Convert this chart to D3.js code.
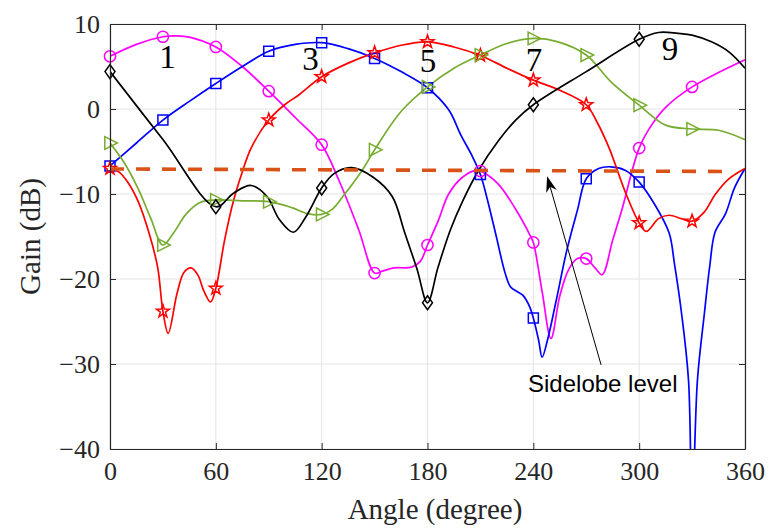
<!DOCTYPE html>
<html>
<head>
<meta charset="utf-8">
<script src="https://cdn.jsdelivr.net/npm/d3@7"></script>
<style>
  html, body { margin: 0; padding: 0; background: #ffffff; }
  svg { display: block; }
</style>
</head>
<body>
<svg id="chart" width="769" height="531"></svg>
<script>
// ---------------- DATA ----------------
const xTicks = [0, 60, 120, 180, 240, 300, 360];
const yTicks = [-40, -30, -20, -10, 0, 10];

// Series "1" (magenta, circles)
const s1Angle = [0, 15, 30, 38, 45, 60, 75, 90, 105, 120, 130, 141, 150, 154, 161, 171, 176, 180, 186, 192, 200, 208, 210, 220, 230, 238, 240, 245, 250, 255, 260, 265, 270, 275, 279, 285, 290, 300, 307, 315, 330, 345, 360];
const s1Gain  = [6.2, 7.6, 8.5, 8.6, 8.45, 7.3, 5.0, 2.1, -1.0, -4.2, -8.5, -14.2, -19.3, -19.1, -18.7, -18.6, -17.9, -16.0, -13.2, -10.0, -8.0, -7.2, -7.3, -8.8, -11.8, -14.8, -15.7, -21.5, -27.0, -22.0, -18.9, -17.6, -17.6, -18.7, -19.5, -15.4, -12.0, -4.6, -1.9, 0.2, 2.6, 4.3, 5.8];

// Series "3" (blue, squares)
const s3Angle = [0, 15, 30, 45, 60, 75, 90, 105, 120, 135, 150, 165, 180, 192, 199, 205, 210, 214, 219, 224, 227, 231, 234, 238, 240, 243, 245, 248, 253, 259, 265, 270, 277, 284, 292, 300, 309, 317, 320, 324, 328, 330, 333, 337, 340, 343, 349, 354, 360];
const s3Gain  = [-6.7, -4.0, -1.3, 0.9, 3.0, 5.0, 6.8, 7.6, 7.8, 7.1, 5.95, 4.4, 2.5, -0.1, -3.1, -5.4, -7.7, -10.7, -15.0, -19.3, -20.9, -21.5, -21.9, -23.3, -24.6, -27.2, -29.2, -27.2, -22.5, -16.6, -11.9, -8.2, -7.0, -6.8, -7.2, -8.6, -11.3, -14.6, -18.2, -24.0, -32.0, -48.0, -32.0, -24.0, -18.5, -14.5, -12.3, -9.3, -7.0];

// Series "5" (red, pentagrams)
const s5Angle = [0, 5, 10, 16, 22, 27, 30, 33, 38, 42, 46, 50, 53, 57, 60, 65, 70, 75, 80, 90, 99, 107, 120, 135, 150, 165, 180, 195, 210, 225, 240, 255, 270, 276, 283, 292, 300, 304, 311, 317, 324, 330, 337, 343, 351, 360];
const s5Gain  = [-7.0, -7.4, -8.6, -10.9, -14.5, -18.6, -23.8, -26.4, -21.7, -19.2, -18.7, -19.6, -21.3, -22.7, -21.1, -15.4, -10.8, -7.4, -4.6, -1.3, 0.5, 1.65, 3.8, 5.4, 6.6, 7.5, 7.9, 7.3, 6.3, 4.8, 3.4, 2.2, 0.5, -1.5, -4.6, -9.7, -13.4, -14.4, -12.9, -12.5, -12.9, -13.2, -12.1, -10.1, -8.2, -7.0];

// Series "7" (green, right triangles)
const s7Angle = [0, 8, 16, 23, 30, 36, 43, 51, 60, 75, 90, 103, 112, 120, 126, 132, 143, 150, 165, 180, 195, 210, 225, 240, 254, 270, 284, 300, 315, 330, 345, 360];
const s7Gain  = [-4.0, -6.3, -9.4, -12.8, -16.0, -14.6, -12.4, -11.0, -10.7, -10.8, -10.9, -11.6, -12.3, -12.4, -11.8, -10.3, -7.2, -4.8, -0.3, 2.6, 4.8, 6.35, 7.7, 8.3, 7.9, 6.35, 3.2, 0.45, -1.9, -2.35, -2.5, -3.6];

// Series "9" (black, diamonds)
const s9Angle = [0, 30, 60, 70, 80, 89, 96, 104, 111, 120, 127, 137, 149, 160, 167, 174, 180, 186, 193, 200, 209, 220, 230, 240, 270, 300, 311, 322, 330, 341, 351, 360];
const s9Gain  = [4.4, -3.6, -11.5, -9.9, -9.0, -10.3, -13.0, -14.5, -12.7, -9.3, -7.6, -6.9, -8.0, -10.3, -14.5, -18.8, -22.8, -18.6, -14.2, -10.8, -7.2, -3.8, -1.3, 0.5, 4.4, 8.2, 9.0, 8.9, 8.7, 7.9, 6.7, 4.8];

// Sidelobe level (dashed)
const sidelobeAngle = [0, 347];
const sidelobeGain  = [-7.05, -7.35];

// Series labels
const seriesNames = ["1", "3", "5", "7", "9"];
const seriesLabelAngle = [32.6, 113.7, 180.3, 240.4, 317.5];
const seriesLabelGain  = [4.8, 4.6, 4.4, 4.5, 5.8];

// Annotation
const annotationText = "Sidelobe level";
const arrowTip  = [247.8, -7.9];
const arrowTail = [278.4, -30.1];
const annotationAt = [237.0, -33.3];

// ---------------- CHART ----------------
const plot = { left: 110, right: 745, top: 24, bottom: 449 };
const svg = d3.select("#chart");

const x = d3.scaleLinear().domain([0, 360]).range([plot.left, plot.right]);
const y = d3.scaleLinear().domain([-40, 10]).range([plot.bottom, plot.top]);

const axisColor = "#262626";
const serif = "'Liberation Serif', 'Times New Roman', Times, serif";

svg.append("defs").append("clipPath").attr("id", "plotclip")
  .append("rect")
  .attr("x", plot.left).attr("y", plot.top)
  .attr("width", plot.right - plot.left).attr("height", plot.bottom - plot.top);

// grid
const grid = svg.append("g");
grid.selectAll("line.gx").data(xTicks).join("line")
  .attr("x1", d => x(d)).attr("x2", d => x(d))
  .attr("y1", plot.top).attr("y2", plot.bottom)
  .attr("stroke", "#e4e4e4").attr("stroke-width", 1);
grid.selectAll("line.gy").data(yTicks).join("line")
  .attr("y1", d => y(d)).attr("y2", d => y(d))
  .attr("x1", plot.left).attr("x2", plot.right)
  .attr("stroke", "#e4e4e4").attr("stroke-width", 1);

// series
const series = [
  { name: "1", angle: s1Angle, gain: s1Gain, color: "#FF00FF", marker: "circle", step: 30 },
  { name: "3", angle: s3Angle, gain: s3Gain, color: "#0000FF", marker: "square", step: 30 },
  { name: "5", angle: s5Angle, gain: s5Gain, color: "#FF0000", marker: "star", step: 30 },
  { name: "7", angle: s7Angle, gain: s7Gain, color: "#77AC30", marker: "triangle", step: 30 },
  { name: "9", angle: s9Angle, gain: s9Gain, color: "#000000", marker: "diamond", step: 60 }
];

const line = d3.line()
  .x(d => x(d[0])).y(d => y(d[1]))
  .curve(d3.curveCatmullRom.alpha(0.5));

function starPath(R, r) {
  const pts = [];
  for (let i = 0; i < 10; i++) {
    const rad = i % 2 === 0 ? R : r;
    const a = -Math.PI / 2 + i * Math.PI / 5;
    pts.push([rad * Math.cos(a), rad * Math.sin(a)]);
  }
  return "M" + pts.map(p => p[0].toFixed(2) + "," + p[1].toFixed(2)).join("L") + "Z";
}
const shapes = {
  circle: "M5.6,0A5.6,5.6 0 1,1 -5.6,0A5.6,5.6 0 1,1 5.6,0Z",
  square: "M-5,-5L5,-5L5,5L-5,5Z",
  star: starPath(6.8, 2.7),
  triangle: "M-5.2,-6.4L7.4,0L-5.2,6.4Z",
  diamond: "M0,-7L5,0L0,7L-5,0Z"
};

const linesG = svg.append("g").attr("clip-path", "url(#plotclip)");
const markersG = svg.append("g");

series.forEach(s => {
  const pts = s.angle.map((a, i) => [a, s.gain[i]]);
  linesG.append("path")
    .datum(pts)
    .attr("d", line)
    .attr("fill", "none")
    .attr("stroke", s.color)
    .attr("stroke-width", 1.7)
    .attr("stroke-linejoin", "round");
  const mk = pts.filter(p => p[0] % s.step === 0 && p[0] <= 330 && p[1] >= -40 && p[1] <= 10);
  markersG.selectAll(null).data(mk).join("path")
    .attr("transform", d => `translate(${x(d[0])},${y(d[1])})`)
    .attr("d", shapes[s.marker])
    .attr("fill", "none")
    .attr("stroke", s.color)
    .attr("stroke-width", 1.5);
});

// sidelobe dashed line
svg.append("line")
  .attr("x1", x(sidelobeAngle[0])).attr("y1", y(sidelobeGain[0]))
  .attr("x2", x(sidelobeAngle[1])).attr("y2", y(sidelobeGain[1]))
  .attr("stroke", "#D95319").attr("stroke-width", 3.6)
  .attr("stroke-dasharray", "14,12");

// axes (inward ticks)
const tickLen = 6;
const gx = svg.append("g").attr("transform", `translate(0,${plot.bottom})`)
  .call(d3.axisBottom(x).tickValues(xTicks).tickSizeInner(-tickLen).tickSizeOuter(0).tickPadding(13).tickFormat(d3.format("d")));
const gxTop = svg.append("g").attr("transform", `translate(0,${plot.top})`)
  .call(d3.axisTop(x).tickValues(xTicks).tickSizeInner(-tickLen).tickSizeOuter(0).tickFormat(""));
const gy = svg.append("g").attr("transform", `translate(${plot.left},0)`)
  .call(d3.axisLeft(y).tickValues(yTicks).tickSizeInner(-tickLen).tickSizeOuter(0).tickPadding(10).tickFormat(d3.format("d")));
const gyRight = svg.append("g").attr("transform", `translate(${plot.right},0)`)
  .call(d3.axisRight(y).tickValues(yTicks).tickSizeInner(-tickLen).tickSizeOuter(0).tickFormat(""));

[gx, gxTop, gy, gyRight].forEach(g => {
  g.select(".domain").attr("stroke", axisColor).attr("stroke-width", 1.2);
  g.selectAll(".tick line").attr("stroke", axisColor).attr("stroke-width", 1);
  g.selectAll("text").attr("fill", "#262626")
    .style("font-family", serif).style("font-size", "26px");
});

// axis titles
svg.append("text")
  .attr("x", 435).attr("y", 519)
  .attr("text-anchor", "middle")
  .style("font-family", serif).style("font-size", "29px").attr("fill", "#262626")
  .text("Angle (degree)");
svg.append("text")
  .attr("transform", `translate(40,${(plot.top + plot.bottom) / 2}) rotate(-90)`)
  .attr("text-anchor", "middle")
  .style("font-family", serif).style("font-size", "29px").attr("fill", "#262626")
  .text("Gain (dB)");

// series number labels
svg.append("g").selectAll("text").data(seriesNames).join("text")
  .attr("x", (d, i) => x(seriesLabelAngle[i]))
  .attr("y", (d, i) => y(seriesLabelGain[i]))
  .attr("text-anchor", "middle")
  .style("font-family", serif).style("font-size", "33px").attr("fill", "#000")
  .text(d => d);

// annotation arrow
const tx = x(arrowTip[0]), ty = y(arrowTip[1]);
const sx = x(arrowTail[0]), sy = y(arrowTail[1]);
const len = Math.hypot(tx - sx, ty - sy);
const ux = (tx - sx) / len, uy = (ty - sy) / len;
const nx = -uy, ny = ux;
const headL = 16, headW = 5.5, notch = 11;
svg.append("line")
  .attr("x1", sx).attr("y1", sy)
  .attr("x2", tx - ux * notch).attr("y2", ty - uy * notch)
  .attr("stroke", "#000").attr("stroke-width", 1);
const bx = tx - ux * headL, by = ty - uy * headL;
svg.append("path")
  .attr("d", `M${tx},${ty}L${bx + nx * headW},${by + ny * headW}L${tx - ux * notch},${ty - uy * notch}L${bx - nx * headW},${by - ny * headW}Z`)
  .attr("fill", "#000");
svg.append("text")
  .attr("x", x(annotationAt[0])).attr("y", y(annotationAt[1]))
  .style("font-family", "'Liberation Sans', Arial, Helvetica, sans-serif")
  .style("font-size", "24px").attr("fill", "#000")
  .text(annotationText);
</script>
</body>
</html>
